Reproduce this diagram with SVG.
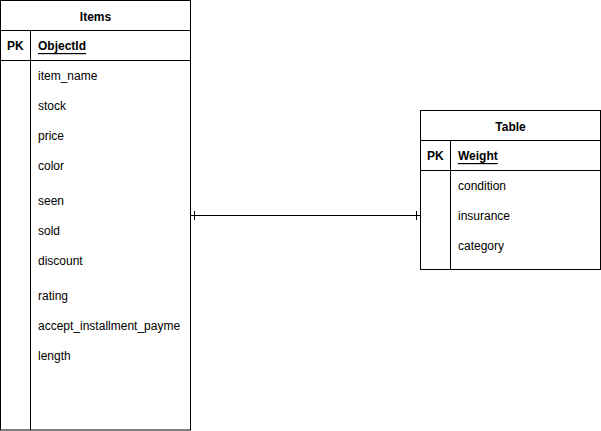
<svg xmlns="http://www.w3.org/2000/svg" width="601" height="431" viewBox="0 0 601 431">
<style>
.box{fill:#fff;stroke:#000;stroke-width:1}
.ln{stroke:#000;stroke-width:1;fill:none}
text{font-family:"Liberation Sans",Arial,sans-serif;font-size:12px;fill:#000;dominant-baseline:central}
.b{font-weight:bold}
.t{text-anchor:middle}
.u{text-decoration:underline}
</style>
<g id="items">
<rect class="box" x="0.5" y="0.5" width="190" height="429.5"/>
<line class="ln" x1="0.5" y1="30.5" x2="190.5" y2="30.5"/>
<line class="ln" x1="0.5" y1="60.5" x2="190.5" y2="60.5"/>
<line class="ln" x1="30.5" y1="30.5" x2="30.5" y2="430"/>
<text class="b t" x="95.5" y="16.5">Items</text>
<text class="b" x="7" y="46">PK</text>
<text class="b u" x="38" y="46">ObjectId</text>
<text x="38" y="76">item_name</text>
<text x="38" y="106">stock</text>
<text x="38" y="136">price</text>
<text x="38" y="166">color</text>
<text x="38" y="201">seen</text>
<text x="38" y="231">sold</text>
<text x="38" y="261">discount</text>
<text x="38" y="296">rating</text>
<text x="38" y="326">accept_installment_payme</text>
<text x="38" y="356">length</text>
</g>
<g id="table">
<rect class="box" x="420.5" y="110.5" width="180" height="159"/>
<line class="ln" x1="420.5" y1="140.5" x2="600.5" y2="140.5"/>
<line class="ln" x1="420.5" y1="170.5" x2="600.5" y2="170.5"/>
<line class="ln" x1="450.5" y1="140.5" x2="450.5" y2="269.5"/>
<text class="b t" x="510.5" y="126.5">Table</text>
<text class="b" x="427" y="156">PK</text>
<text class="b u" x="458" y="156">Weight</text>
<text x="458" y="186">condition</text>
<text x="458" y="216">insurance</text>
<text x="458" y="246">category</text>
</g>
<g id="connectors">
<line class="ln" x1="190.5" y1="215.5" x2="420.5" y2="215.5"/>
<line class="ln" x1="194.5" y1="211" x2="194.5" y2="220"/>
<line class="ln" x1="416.5" y1="211" x2="416.5" y2="220"/>
</g>
</svg>
